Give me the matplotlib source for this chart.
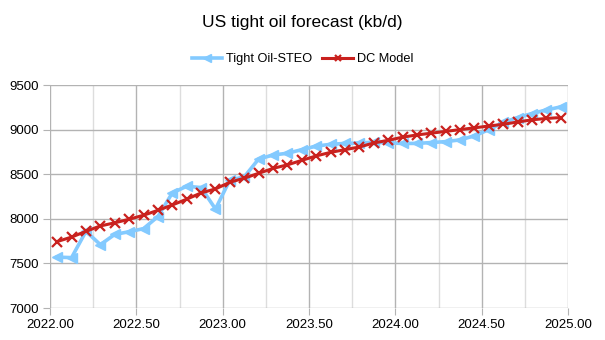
import matplotlib
matplotlib.use("Agg")
import matplotlib.pyplot as plt
from matplotlib.ticker import MultipleLocator, FuncFormatter
import numpy as np

plt.rcParams['font.family'] = ['Liberation Sans', 'DejaVu Sans']

# month index 0..35 (Jan 2022 .. Dec 2024), plotted at mid-month
months = list(range(36))
steo = [7570, 7565, 7860, 7710, 7825, 7855, 7890, 8025, 8290, 8365, 8350, 8110,
        8435, 8470, 8670, 8715, 8735, 8775, 8815, 8835, 8845, 8850, 8860, 8850,
        8845, 8845, 8855, 8865, 8885, 8930, 9000, 9080, 9135, 9180, 9220, 9255]
dc = [7745, 7795, 7860, 7920, 7955, 7995, 8040, 8095, 8155, 8220, 8290, 8335,
      8410, 8455, 8510, 8565, 8605, 8655, 8705, 8745, 8775, 8805, 8850, 8880,
      8915, 8940, 8960, 8980, 9000, 9020, 9040, 9060, 9085, 9110, 9125, 9135]

x = 2022 + (np.array(months) + 0.5) / 12.0

fig = plt.figure(figsize=(6.05, 3.4), dpi=100)
ax = fig.add_axes([50/605, 1-308/340, (568-50)/605, (308-85)/340])

blue = '#83CAFF'
red = '#C9211E'

ax.plot(x, steo, color=blue, lw=2.6, marker='<', ms=7, mec=blue, mfc=blue,
        label='Tight Oil-STEO', zorder=3)
ax.plot(x, dc, color=red, lw=2.2, marker='x', ms=6.5, mew=1.6, mec=red,
        label='DC Model', zorder=4)

ax.set_xlim(2022, 2025)
ax.set_ylim(7000, 9500)
ax.xaxis.set_major_locator(MultipleLocator(0.5))
ax.xaxis.set_minor_locator(MultipleLocator(0.25))
ax.yaxis.set_major_locator(MultipleLocator(500))
ax.xaxis.set_major_formatter(FuncFormatter(lambda v, p: f"{v:.2f}"))
ax.yaxis.set_major_formatter(FuncFormatter(lambda v, p: f"{v:.0f}"))

ax.grid(which='major', color='#b3b3b3', lw=1.0, zorder=0)
ax.grid(which='minor', axis='x', color='#dddddd', lw=1.0, zorder=0)
for s in ax.spines.values():
    s.set_visible(False)
ax.tick_params(which='major', length=5, color='#b3b3b3', labelsize=9.5,
               labelcolor='#000000', pad=3)
ax.tick_params(which='minor', length=0)

fig.text(0.5, 1-22/340, 'US tight oil forecast (kb/d)', ha='center', va='center',
         fontsize=12.5)
fig.legend(loc='center', bbox_to_anchor=(0.5, 1-59/340), ncol=2, frameon=False,
           fontsize=9.2, handlelength=2.4, columnspacing=0.8, handletextpad=0.3,
           markerscale=0.75)

fig.savefig('out.png', dpi=100)
